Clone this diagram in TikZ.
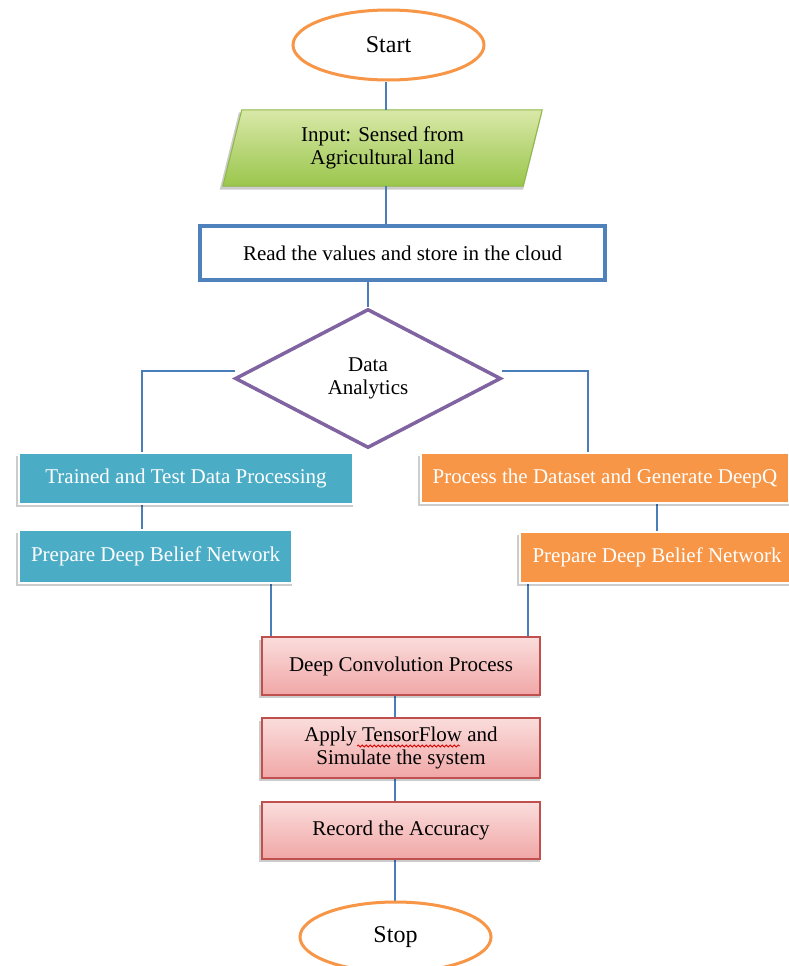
\documentclass[tikz,border=0pt]{standalone}
\usepackage{fontspec}
\setmainfont{Liberation Serif}
\usetikzlibrary{shapes.geometric,calc,shadows,backgrounds,decorations.pathmorphing}

\definecolor{connblue}{HTML}{4A7EBB}
\definecolor{boxblue}{HTML}{4F81BD}
\definecolor{termorange}{HTML}{F79646}
\definecolor{diapurple}{HTML}{8064A2}
\definecolor{tealfill}{HTML}{4BACC6}
\definecolor{orangefill}{HTML}{F79646}
\definecolor{pinktop}{HTML}{FADDDC}
\definecolor{pinkbot}{HTML}{F0A7A6}
\definecolor{pinkline}{HTML}{C0504D}
\definecolor{greentop}{HTML}{D9E8A8}
\definecolor{greenbot}{HTML}{9AC64C}
\definecolor{greenline}{HTML}{8DB843}

\begin{document}
\begin{tikzpicture}[x=1pt,y=-1pt,
  every node/.style={font=\fontsize{21}{23}\selectfont, align=center, inner sep=0pt},
  terminal/.style={ellipse, draw=termorange, line width=3pt, fill=white,
    minimum width=191pt, minimum height=70pt, font=\fontsize{24}{26}\selectfont},
  softshadow/.style={drop shadow={shadow xshift=-1.5pt, shadow yshift=-3pt,
    shadow scale=1.01, fill=black, opacity=0.2}},
  readbox/.style={rectangle, draw=boxblue, line width=3.5pt, fill=white,
    minimum width=405pt, minimum height=54pt},
  decision/.style={diamond, draw=diapurple, line width=3.5pt, fill=white,
    minimum width=266pt, minimum height=139pt},
  tealbox/.style={rectangle, fill=tealfill, draw=white, line width=2pt,
    text=white, softshadow},
  orangebox/.style={rectangle, fill=orangefill, draw=white, line width=2pt,
    text=white, softshadow},
  pinkbox/.style={rectangle, top color=pinktop, bottom color=pinkbot,
    draw=pinkline, line width=1.5pt, minimum width=278pt, softshadow},
  conn/.style={draw=connblue, line width=2pt},
  spellmark/.style={draw=red!85!black, line width=0.8pt,
    decorate, decoration={snake, amplitude=1pt, segment length=4pt}}
]
% page background
\begin{scope}[on background layer]
  \fill[white] (0,0) rectangle (789,966);
\end{scope}
\useasboundingbox (0,0) rectangle (789,966);

% terminals
\node[terminal] (start) at (388.5,45) {Start};
\node[terminal] (stop) at (395.5,937) {Stop};

% input (parallelogram drawn behind the text node)
\node[rectangle, minimum width=300pt, minimum height=76pt] (inp) at (382.5,148)
  {Input: Sensed from\\Agricultural land};
\begin{scope}[on background layer]
  \path[top color=greentop, bottom color=greenbot, draw=greenline, line width=1pt, softshadow]
    ($(inp.north west)+(9.5,0)$) -- ($(inp.north east)+(9.5,0)$)
    -- ($(inp.south east)+(-9.5,0)$) -- ($(inp.south west)+(-9.5,0)$) -- cycle;
\end{scope}

% storage step
\node[readbox] (rd) at (402.5,253) {Read the values and store in the cloud};

% decision
\node[decision] (dia) at (368,378.5) {Data\\Analytics};

% left branch
\node[tealbox, minimum width=334pt, minimum height=51pt] (t1) at (186,478.5)
  {Trained and Test Data Processing};
\node[tealbox, minimum width=273pt, minimum height=53pt] (t2) at (155.5,556.5)
  {Prepare Deep Belief Network};

% right branch
\node[orangebox, minimum width=368pt, minimum height=50pt] (o1) at (605,478)
  {Process the Dataset and Generate DeepQ};
\node[orangebox, minimum width=274pt, minimum height=51pt] (o2) at (657,557.5)
  {Prepare Deep Belief Network};

% common steps
\node[pinkbox, minimum height=58pt] (p1) at (401,666) {Deep Convolution Process};
\node[pinkbox, minimum height=60pt] (p2) at (401,748)
  {Apply TensorFlow and\\Simulate the system};
\node[pinkbox, minimum height=57pt] (p3) at (401,830.5) {Record the Accuracy};

% spell-check underline beneath "TensorFlow"
\draw[spellmark] ($(p2.center)+(-44,-2)$) -- ($(p2.center)+(59,-2)$);

% connectors
\begin{scope}[on background layer]
\draw[conn] ($(start.south)+(-3,0)$) coordinate (a1) -- (a1 |- inp.north);
\draw[conn] (a1 |- inp.south) -- (a1 |- rd.north);
\draw[conn] (dia.north |- rd.south) -- (dia.north);
\draw[conn] ($(dia.west)+(2,-8)$) -| ($(t1.north)+(-44,0)$);
\draw[conn] ($(dia.east)+(-1,-8)$) -| ($(o1.north)+(-17,0)$);
\draw[conn] ($(t1.south)+(-44,0)$) coordinate (a2) -- (a2 |- t2.north);
\draw[conn] (o2.north |- o1.south) -- (o2.north);
\draw[conn] ($(t2.south)+(115.5,0)$) coordinate (a3) -- (a3 |- p1.north);
\draw[conn] ($(o2.south)+(-129,0)$) coordinate (a4) -- (a4 |- p1.north);
\draw[conn] ($(p1.south)+(-6,0)$) coordinate (a5) -- (a5 |- p2.north);
\draw[conn] (a5 |- p2.south) -- (a5 |- p3.north);
\draw[conn] (a5 |- p3.south) -- (a5 |- stop.north);
\end{scope}
\end{tikzpicture}
\end{document}
